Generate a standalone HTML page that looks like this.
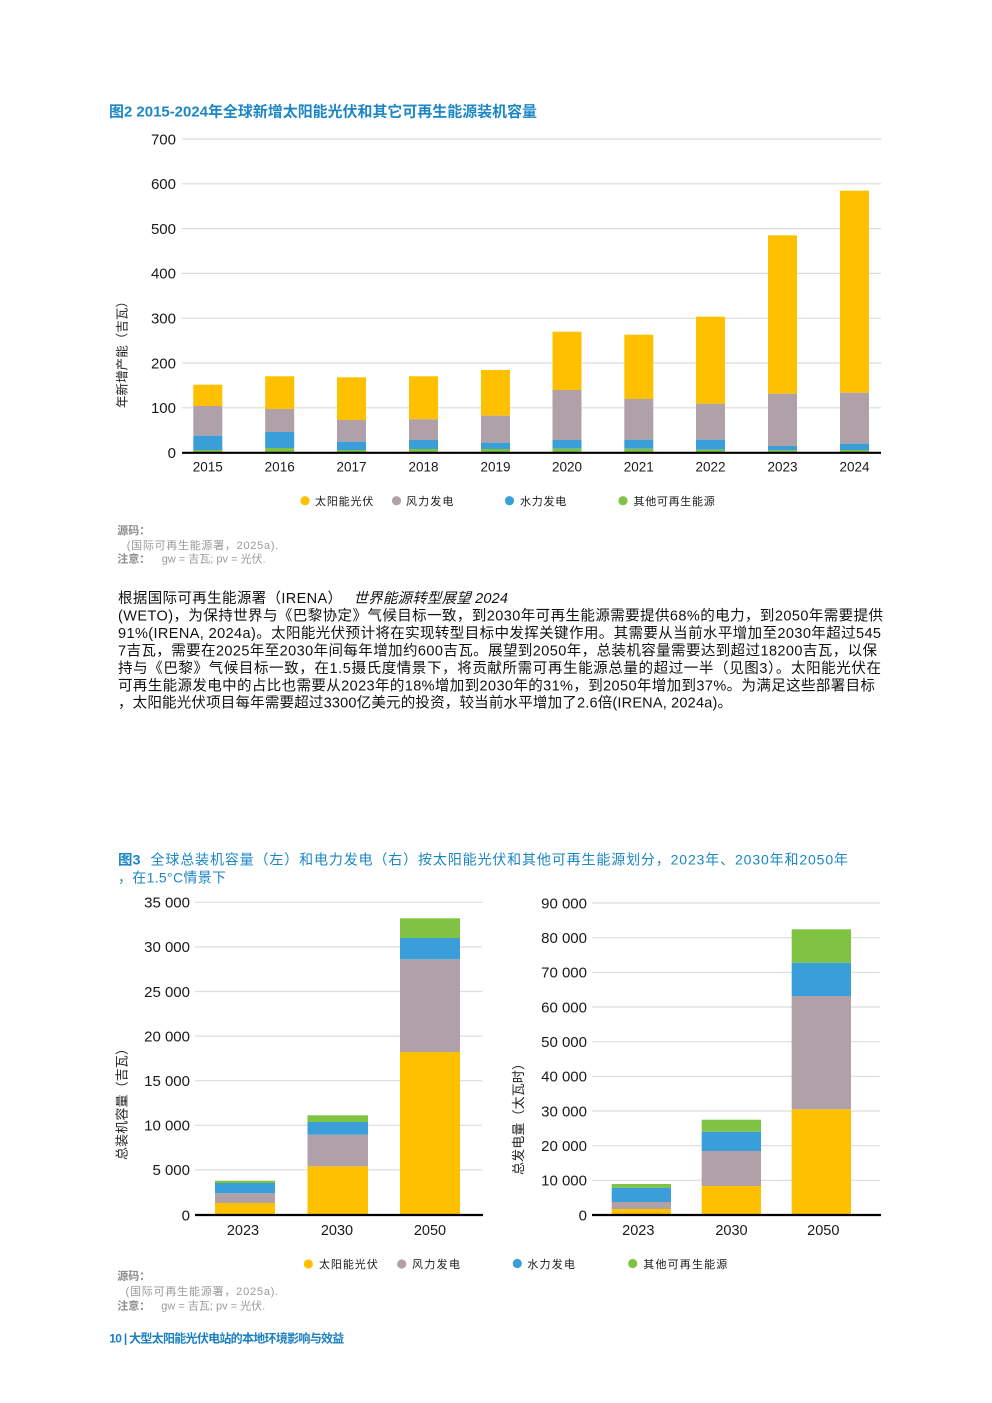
<!DOCTYPE html>
<html><head><meta charset="utf-8">
<style>
html,body{margin:0;padding:0;background:#fff;}
svg{display:block;}
text{font-family:"Liberation Sans","Noto Sans CJK SC",sans-serif;}
</style></head>
<body>
<svg width="992" height="1403" viewBox="0 0 992 1403" xmlns="http://www.w3.org/2000/svg">
<rect width="992" height="1403" fill="#fff"/>

<!-- Figure 2 title -->
<text x="109" y="116.3" font-size="15" font-weight="bold" fill="#1a86c4" textLength="428" lengthAdjust="spacingAndGlyphs">图2 2015-2024年全球新增太阳能光伏和其它可再生能源装机容量</text>

<!-- Chart 1 gridlines -->
<g stroke="#dcdcdc" stroke-width="1.2">
<line x1="182" y1="139" x2="881" y2="139"/>
<line x1="182" y1="183.8" x2="881" y2="183.8"/>
<line x1="182" y1="228.6" x2="881" y2="228.6"/>
<line x1="182" y1="273.4" x2="881" y2="273.4"/>
<line x1="182" y1="318.2" x2="881" y2="318.2"/>
<line x1="182" y1="363" x2="881" y2="363"/>
<line x1="182" y1="407.8" x2="881" y2="407.8"/>
</g>
<!-- Chart 1 tick labels -->
<g font-size="15" fill="#1a1a1a" text-anchor="end">
<text x="176" y="144.3">700</text>
<text x="176" y="189.1">600</text>
<text x="176" y="233.9">500</text>
<text x="176" y="278.7">400</text>
<text x="176" y="323.5">300</text>
<text x="176" y="368.3">200</text>
<text x="176" y="413.1">100</text>
<text x="176" y="458">0</text>
</g>
<text transform="translate(126.5,351.5) rotate(-90)" font-size="12.5" fill="#222" text-anchor="middle" textLength="113" lengthAdjust="spacing">年新增产能（吉瓦）</text>

<!-- Chart 1 bars -->
<g>
<!-- 2015 -->
<rect x="193.3" y="384.7" width="29" height="21.3" fill="#FFC000"/>
<rect x="193.3" y="406" width="29" height="29.7" fill="#AFA1A7"/>
<rect x="193.3" y="435.7" width="29" height="14.3" fill="#3A9FD8"/>
<rect x="193.3" y="450" width="29" height="3" fill="#80C242"/>
<!-- 2016 -->
<rect x="265.2" y="376.3" width="29" height="32.7" fill="#FFC000"/>
<rect x="265.2" y="409" width="29" height="23" fill="#AFA1A7"/>
<rect x="265.2" y="432" width="29" height="16" fill="#3A9FD8"/>
<rect x="265.2" y="448" width="29" height="5" fill="#80C242"/>
<!-- 2017 -->
<rect x="337" y="377.3" width="29" height="42.7" fill="#FFC000"/>
<rect x="337" y="420" width="29" height="21.7" fill="#AFA1A7"/>
<rect x="337" y="441.7" width="29" height="8.3" fill="#3A9FD8"/>
<rect x="337" y="450" width="29" height="3" fill="#80C242"/>
<!-- 2018 -->
<rect x="409" y="376.3" width="29" height="43" fill="#FFC000"/>
<rect x="409" y="419.3" width="29" height="20.7" fill="#AFA1A7"/>
<rect x="409" y="440" width="29" height="9" fill="#3A9FD8"/>
<rect x="409" y="449" width="29" height="4" fill="#80C242"/>
<!-- 2019 -->
<rect x="481" y="370" width="29" height="45.7" fill="#FFC000"/>
<rect x="481" y="415.7" width="29" height="27" fill="#AFA1A7"/>
<rect x="481" y="442.7" width="29" height="6.3" fill="#3A9FD8"/>
<rect x="481" y="449" width="29" height="4" fill="#80C242"/>
<!-- 2020 -->
<rect x="552.5" y="331.7" width="29" height="58.3" fill="#FFC000"/>
<rect x="552.5" y="390" width="29" height="50" fill="#AFA1A7"/>
<rect x="552.5" y="440" width="29" height="8.7" fill="#3A9FD8"/>
<rect x="552.5" y="448.7" width="29" height="4.3" fill="#80C242"/>
<!-- 2021 -->
<rect x="624.3" y="334.7" width="29" height="64.3" fill="#FFC000"/>
<rect x="624.3" y="399" width="29" height="40.7" fill="#AFA1A7"/>
<rect x="624.3" y="439.7" width="29" height="9" fill="#3A9FD8"/>
<rect x="624.3" y="448.7" width="29" height="4.3" fill="#80C242"/>
<!-- 2022 -->
<rect x="696" y="316.7" width="29" height="87" fill="#FFC000"/>
<rect x="696" y="403.7" width="29" height="36" fill="#AFA1A7"/>
<rect x="696" y="439.7" width="29" height="10" fill="#3A9FD8"/>
<rect x="696" y="449.7" width="29" height="3.3" fill="#80C242"/>
<!-- 2023 -->
<rect x="768" y="235.3" width="29" height="158.4" fill="#FFC000"/>
<rect x="768" y="393.7" width="29" height="52.3" fill="#AFA1A7"/>
<rect x="768" y="446" width="29" height="4.3" fill="#3A9FD8"/>
<rect x="768" y="450.3" width="29" height="2.7" fill="#80C242"/>
<!-- 2024 -->
<rect x="840" y="190.7" width="29" height="202" fill="#FFC000"/>
<rect x="840" y="392.7" width="29" height="51" fill="#AFA1A7"/>
<rect x="840" y="443.7" width="29" height="6.3" fill="#3A9FD8"/>
<rect x="840" y="450" width="29" height="3" fill="#80C242"/>
</g>
<line x1="182" y1="452.8" x2="881" y2="452.8" stroke="#000" stroke-width="2.2"/>

<!-- Chart 1 x labels -->
<g font-size="13.5" fill="#1a1a1a" text-anchor="middle">
<text x="207.8" y="471.5">2015</text>
<text x="279.7" y="471.5">2016</text>
<text x="351.5" y="471.5">2017</text>
<text x="423.5" y="471.5">2018</text>
<text x="495.5" y="471.5">2019</text>
<text x="567" y="471.5">2020</text>
<text x="638.8" y="471.5">2021</text>
<text x="710.5" y="471.5">2022</text>
<text x="782.5" y="471.5">2023</text>
<text x="854.5" y="471.5">2024</text>
</g>

<!-- Chart 1 legend -->
<circle cx="305" cy="500.7" r="4.6" fill="#FFC000"/>
<circle cx="396.5" cy="500.7" r="4.6" fill="#AFA1A7"/>
<circle cx="509.5" cy="500.7" r="4.6" fill="#3A9FD8"/>
<circle cx="623" cy="500.7" r="4.6" fill="#80C242"/>
<g font-size="11" fill="#1a1a1a">
<text x="315" y="505" textLength="58.3" lengthAdjust="spacing">太阳能光伏</text>
<text x="406" y="505" textLength="47.4" lengthAdjust="spacing">风力发电</text>
<text x="520" y="505" textLength="46.2" lengthAdjust="spacing">水力发电</text>
<text x="633.5" y="505" textLength="81.2" lengthAdjust="spacing">其他可再生能源</text>
</g>

<!-- Chart 1 notes -->
<g font-size="11" fill="#9a9a9a">
<text x="117.3" y="534" font-weight="bold" fill="#8c8c8c">源码：</text>
<text x="126.7" y="549" textLength="151.6" lengthAdjust="spacing">(国际可再生能源署，2025a).</text>
<text x="117.3" y="562.3" font-weight="bold" fill="#8c8c8c">注意：</text>
<text x="161.7" y="562.3">gw = 吉瓦; pv = 光伏.</text>
</g>

<!-- Paragraph -->
<g font-size="14.5" fill="#111">
<text x="118" y="603" textLength="224" lengthAdjust="spacing">根据国际可再生能源署（IRENA）</text>
<text x="353.5" y="603" font-style="italic" textLength="154.5" lengthAdjust="spacing">世界能源转型展望 2024</text>
<text x="118" y="620.5" textLength="765" lengthAdjust="spacing">(WETO)，为保持世界与《巴黎协定》气候目标一致，到2030年可再生能源需要提供68%的电力，到2050年需要提供</text>
<text x="118" y="638" textLength="763" lengthAdjust="spacing">91%(IRENA, 2024a)。太阳能光伏预计将在实现转型目标中发挥关键作用。其需要从当前水平增加至2030年超过545</text>
<text x="118" y="655.4" textLength="759" lengthAdjust="spacing">7吉瓦，需要在2025年至2030年间每年增加约600吉瓦。展望到2050年，总装机容量需要达到超过18200吉瓦，以保</text>
<text x="118" y="672.8" textLength="763" lengthAdjust="spacing">持与《巴黎》气候目标一致，在1.5摄氏度情景下，将贡献所需可再生能源总量的超过一半（见图3）。太阳能光伏在</text>
<text x="118" y="690.3" textLength="757" lengthAdjust="spacing">可再生能源发电中的占比也需要从2023年的18%增加到2030年的31%，到2050年增加到37%。为满足这些部署目标</text>
<text x="118" y="707.7" textLength="614" lengthAdjust="spacing">，太阳能光伏项目每年需要超过3300亿美元的投资，较当前水平增加了2.6倍(IRENA, 2024a)。</text>
</g>

<!-- Figure 3 title -->
<text x="118" y="864.5" font-size="14" font-weight="bold" fill="#1a86c4" textLength="22.5" lengthAdjust="spacingAndGlyphs">图3</text>
<text x="150.5" y="864.5" font-size="14" fill="#1a86c4" textLength="697.5" lengthAdjust="spacing">全球总装机容量（左）和电力发电（右）按太阳能光伏和其他可再生能源划分，2023年、2030年和2050年</text>
<text x="118" y="882.5" font-size="14" fill="#1a86c4" textLength="108" lengthAdjust="spacing">，在1.5°C情景下</text>

<!-- Chart 3 left gridlines -->
<g stroke="#dcdcdc" stroke-width="1.2">
<line x1="195" y1="902.3" x2="482" y2="902.3"/>
<line x1="195" y1="946.9" x2="482" y2="946.9"/>
<line x1="195" y1="991.5" x2="482" y2="991.5"/>
<line x1="195" y1="1036.1" x2="482" y2="1036.1"/>
<line x1="195" y1="1080.7" x2="482" y2="1080.7"/>
<line x1="195" y1="1125.3" x2="482" y2="1125.3"/>
<line x1="195" y1="1169.9" x2="482" y2="1169.9"/>
</g>
<g font-size="15" fill="#1a1a1a" text-anchor="end">
<text x="190" y="907.6">35 000</text>
<text x="190" y="952.2">30 000</text>
<text x="190" y="996.8">25 000</text>
<text x="190" y="1041.4">20 000</text>
<text x="190" y="1086">15 000</text>
<text x="190" y="1130.6">10 000</text>
<text x="190" y="1175.2">5 000</text>
<text x="190" y="1220.3">0</text>
</g>
<text transform="translate(126.5,1101) rotate(-90)" font-size="13" fill="#222" text-anchor="middle" textLength="118" lengthAdjust="spacing">总装机容量（吉瓦）</text>

<!-- Chart 3 left bars -->
<rect x="215" y="1203" width="60" height="12" fill="#FFC000"/>
<rect x="215" y="1193.3" width="60" height="9.7" fill="#AFA1A7"/>
<rect x="215" y="1183" width="60" height="10.3" fill="#3A9FD8"/>
<rect x="215" y="1180.7" width="60" height="2.3" fill="#80C242"/>

<rect x="307.5" y="1166.3" width="60.5" height="48.7" fill="#FFC000"/>
<rect x="307.5" y="1134.7" width="60.5" height="31.6" fill="#AFA1A7"/>
<rect x="307.5" y="1122" width="60.5" height="12.7" fill="#3A9FD8"/>
<rect x="307.5" y="1115.3" width="60.5" height="6.7" fill="#80C242"/>

<rect x="400" y="1052" width="60" height="163" fill="#FFC000"/>
<rect x="400" y="959.3" width="60" height="92.7" fill="#AFA1A7"/>
<rect x="400" y="938" width="60" height="21.3" fill="#3A9FD8"/>
<rect x="400" y="918.3" width="60" height="19.7" fill="#80C242"/>

<line x1="195" y1="1215" x2="483" y2="1215" stroke="#000" stroke-width="2.2"/>
<g font-size="14.5" fill="#1a1a1a" text-anchor="middle">
<text x="243" y="1235">2023</text>
<text x="337" y="1235">2030</text>
<text x="430" y="1235">2050</text>
</g>

<!-- Chart 3 right gridlines -->
<g stroke="#dcdcdc" stroke-width="1.2">
<line x1="592" y1="903" x2="880" y2="903"/>
<line x1="592" y1="937.7" x2="880" y2="937.7"/>
<line x1="592" y1="972.3" x2="880" y2="972.3"/>
<line x1="592" y1="1007" x2="880" y2="1007"/>
<line x1="592" y1="1041.7" x2="880" y2="1041.7"/>
<line x1="592" y1="1076.3" x2="880" y2="1076.3"/>
<line x1="592" y1="1111" x2="880" y2="1111"/>
<line x1="592" y1="1145.7" x2="880" y2="1145.7"/>
<line x1="592" y1="1180.3" x2="880" y2="1180.3"/>
</g>
<g font-size="15" fill="#1a1a1a" text-anchor="end">
<text x="587" y="908.3">90 000</text>
<text x="587" y="943">80 000</text>
<text x="587" y="977.6">70 000</text>
<text x="587" y="1012.3">60 000</text>
<text x="587" y="1047">50 000</text>
<text x="587" y="1081.6">40 000</text>
<text x="587" y="1116.3">30 000</text>
<text x="587" y="1151">20 000</text>
<text x="587" y="1185.6">10 000</text>
<text x="587" y="1220.3">0</text>
</g>
<text transform="translate(523,1116) rotate(-90)" font-size="13" fill="#222" text-anchor="middle" textLength="118" lengthAdjust="spacing">总发电量（太瓦时）</text>

<!-- Chart 3 right bars -->
<rect x="611.7" y="1209" width="59.3" height="6" fill="#FFC000"/>
<rect x="611.7" y="1202" width="59.3" height="7" fill="#AFA1A7"/>
<rect x="611.7" y="1187.7" width="59.3" height="14.3" fill="#3A9FD8"/>
<rect x="611.7" y="1184" width="59.3" height="3.7" fill="#80C242"/>

<rect x="701.7" y="1186" width="59.3" height="29" fill="#FFC000"/>
<rect x="701.7" y="1151" width="59.3" height="35" fill="#AFA1A7"/>
<rect x="701.7" y="1131.7" width="59.3" height="19.3" fill="#3A9FD8"/>
<rect x="701.7" y="1119.7" width="59.3" height="12" fill="#80C242"/>

<rect x="791.7" y="1109.3" width="59.3" height="105.7" fill="#FFC000"/>
<rect x="791.7" y="996" width="59.3" height="113.3" fill="#AFA1A7"/>
<rect x="791.7" y="962.7" width="59.3" height="33.3" fill="#3A9FD8"/>
<rect x="791.7" y="929.3" width="59.3" height="33.4" fill="#80C242"/>

<line x1="592" y1="1215" x2="881" y2="1215" stroke="#000" stroke-width="2.2"/>
<g font-size="14.5" fill="#1a1a1a" text-anchor="middle">
<text x="638.3" y="1235">2023</text>
<text x="731.5" y="1235">2030</text>
<text x="823.3" y="1235">2050</text>
</g>

<!-- Chart 3 legend -->
<circle cx="308.3" cy="1264" r="4.6" fill="#FFC000"/>
<circle cx="401.7" cy="1264" r="4.6" fill="#AFA1A7"/>
<circle cx="517.3" cy="1263.5" r="4.6" fill="#3A9FD8"/>
<circle cx="632.7" cy="1263.5" r="4.6" fill="#80C242"/>
<g font-size="11" fill="#1a1a1a">
<text x="319" y="1268.2" textLength="58.7" lengthAdjust="spacing">太阳能光伏</text>
<text x="412" y="1268.2" textLength="48" lengthAdjust="spacing">风力发电</text>
<text x="527.3" y="1268.2" textLength="47.7" lengthAdjust="spacing">水力发电</text>
<text x="643.3" y="1268.2" textLength="84" lengthAdjust="spacing">其他可再生能源</text>
</g>

<!-- Chart 3 notes -->
<g font-size="11" fill="#9a9a9a">
<text x="117.3" y="1279.3" font-weight="bold" fill="#8c8c8c">源码：</text>
<text x="125.5" y="1295" textLength="152.8" lengthAdjust="spacing">(国际可再生能源署，2025a).</text>
<text x="117.3" y="1309.3" font-weight="bold" fill="#8c8c8c">注意：</text>
<text x="161.3" y="1309.3">gw = 吉瓦; pv = 光伏.</text>
</g>

<!-- Footer -->
<text x="109.3" y="1342.6" font-size="12" font-weight="bold" fill="#1a7fbf" textLength="235" lengthAdjust="spacing">10 | 大型太阳能光伏电站的本地环境影响与效益</text>
</svg>
</body></html>
